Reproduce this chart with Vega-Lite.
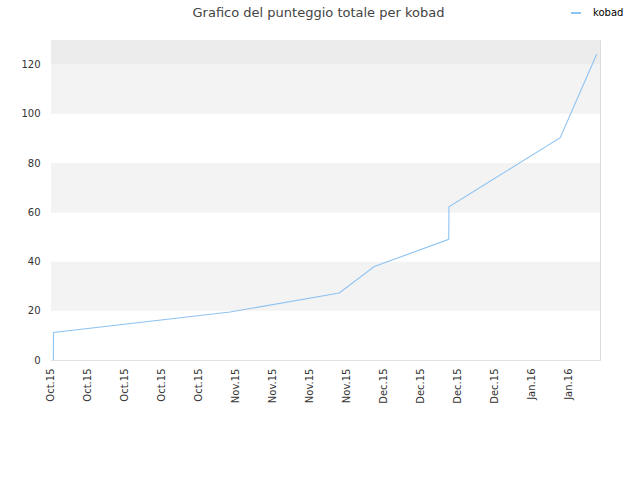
{
  "$schema": "https://vega.github.io/schema/vega-lite/v6.json",
  "width": 549,
  "height": 320,
  "autosize": {"type": "none"},
  "padding": {"left": 51, "top": 40, "right": 40, "bottom": 120},
  "background": "#ffffff",
  "config": {
    "font": "DejaVu Sans",
    "view": {"stroke": "#dcdcdc"}
  },
  "title": {
    "text": "Grafico del punteggio totale per kobad",
    "fontSize": 13,
    "fontWeight": "normal",
    "color": "#444444",
    "anchor": "middle",
    "offset": 0,
    "dy": 13,
    "dx": -7
  },
  "datasets": {
    "bands": [
      {"lo": 0, "hi": 20, "shade": "white"},
      {"lo": 20, "hi": 40, "shade": "light"},
      {"lo": 40, "hi": 60, "shade": "white"},
      {"lo": 60, "hi": 80, "shade": "light"},
      {"lo": 80, "hi": 100, "shade": "white"},
      {"lo": 100, "hi": 120, "shade": "light"},
      {"lo": 120, "hi": 130, "shade": "dark"}
    ],
    "scores": [
      {"time": "2015-10-02T00:00", "score": 0, "player": "kobad"},
      {"time": "2015-10-02T01:00", "score": 11.2, "player": "kobad"},
      {"time": "2015-11-04T10:00", "score": 19.5, "player": "kobad"},
      {"time": "2015-11-25T02:00", "score": 27.2, "player": "kobad"},
      {"time": "2015-12-01T17:00", "score": 38, "player": "kobad"},
      {"time": "2015-12-15T19:00", "score": 49, "player": "kobad"},
      {"time": "2015-12-15T20:00", "score": 62.2, "player": "kobad"},
      {"time": "2016-01-05T21:00", "score": 90.3, "player": "kobad"},
      {"time": "2016-01-12T19:00", "score": 124.3, "player": "kobad"}
    ]
  },
  "layer": [
    {
      "data": {"name": "bands"},
      "mark": {"type": "rect"},
      "encoding": {
        "y": {
          "field": "lo",
          "type": "quantitative",
          "scale": {"domain": [0, 130], "nice": false},
          "axis": {
            "title": null,
            "values": [0, 20, 40, 60, 80, 100, 120],
            "grid": true,
            "gridColor": "#e2e2e2",
            "domain": false,
            "ticks": false,
            "labelPadding": 11,
            "labelFontSize": 10,
            "labelColor": "#333333"
          }
        },
        "y2": {"field": "hi"},
        "fill": {
          "field": "shade",
          "type": "nominal",
          "scale": {"domain": ["white", "light", "dark"], "range": ["#ffffff", "#f3f3f3", "#ececec"]},
          "legend": null
        }
      }
    },
    {
      "data": {"name": "scores"},
      "mark": {"type": "line", "strokeWidth": 1.1},
      "encoding": {
        "x": {
          "field": "time",
          "type": "temporal",
          "scale": {
            "domain": [
              {"year": 2015, "month": 10, "date": 1, "hours": 13, "minutes": 30},
              {"year": 2016, "month": 1, "date": 13, "hours": 9, "minutes": 36}
            ]
          },
          "axis": {
            "title": null,
            "values": [
              {"year": 2015, "month": 10, "date": 2},
              {"year": 2015, "month": 10, "date": 9},
              {"year": 2015, "month": 10, "date": 16},
              {"year": 2015, "month": 10, "date": 23},
              {"year": 2015, "month": 10, "date": 30},
              {"year": 2015, "month": 11, "date": 6},
              {"year": 2015, "month": 11, "date": 13},
              {"year": 2015, "month": 11, "date": 20},
              {"year": 2015, "month": 11, "date": 27},
              {"year": 2015, "month": 12, "date": 4},
              {"year": 2015, "month": 12, "date": 11},
              {"year": 2015, "month": 12, "date": 18},
              {"year": 2015, "month": 12, "date": 25},
              {"year": 2016, "month": 1, "date": 1},
              {"year": 2016, "month": 1, "date": 8}
            ],
            "format": "%b.%y",
            "labelAngle": 270,
            "labelAlign": "right",
            "labelBaseline": "middle",
            "labelPadding": 8,
            "labelOffset": -3,
            "labelOverlap": false,
            "labelFlush": false,
            "labelFontSize": 10,
            "labelColor": "#333333",
            "grid": false,
            "ticks": false,
            "domain": false
          }
        },
        "y": {"field": "score", "type": "quantitative", "scale": {"domain": [0, 130], "nice": false}},
        "color": {
          "field": "player",
          "type": "nominal",
          "scale": {"range": ["#8ec3f2"]},
          "legend": {
            "title": null,
            "orient": "none",
            "legendX": 519,
            "legendY": -33,
            "symbolType": "stroke",
            "symbolSize": 100,
            "symbolStrokeWidth": 2,
            "labelFontSize": 10,
            "labelColor": "#000000",
            "labelOffset": 11
          }
        }
      }
    }
  ]
}
